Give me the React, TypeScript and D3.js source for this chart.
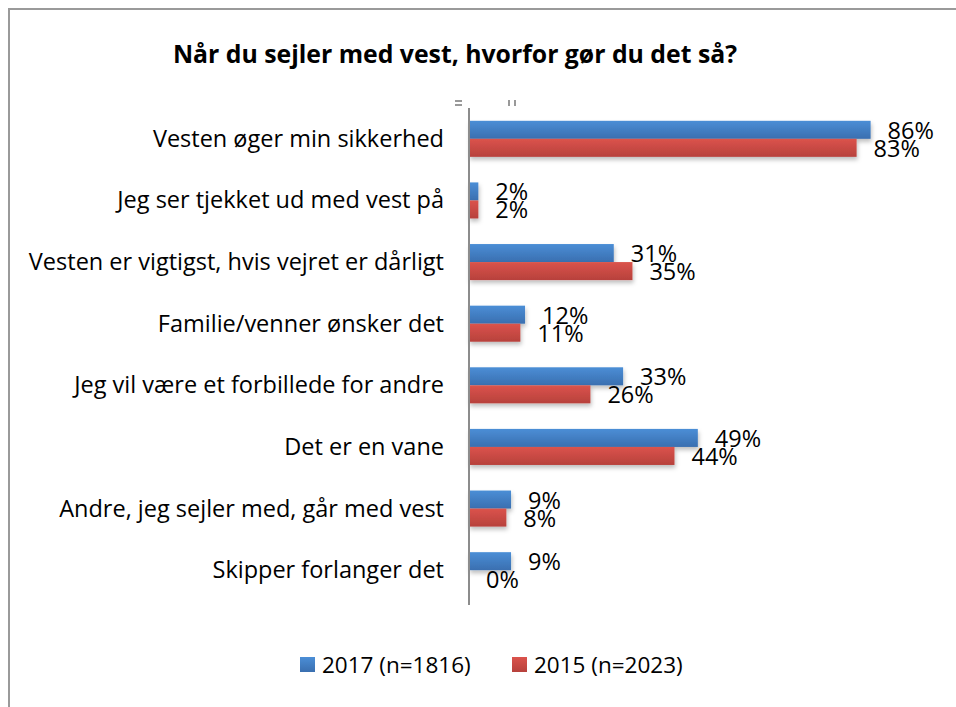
import React from "react";
import * as d3 from "d3";

const categories = [
  "Vesten øger min sikkerhed",
  "Jeg ser tjekket ud med vest på",
  "Vesten er vigtigst, hvis vejret er dårligt",
  "Familie/venner ønsker det",
  "Jeg vil være et forbillede for andre",
  "Det er en vane",
  "Andre, jeg sejler med, går med vest",
  "Skipper forlanger det",
];
const values2017 = [86, 2, 31, 12, 33, 49, 9, 9];
const values2015 = [83, 2, 35, 11, 26, 44, 8, 0];
const seriesNames = ["2017 (n=1816)", "2015 (n=2023)"];
const title = "Når du sejler med vest, hvorfor gør du det så?";

const W = 956;
const H = 707;
const FONT = "'Open Sans', Lato, sans-serif";

export default function App() {
  const x = d3.scaleLinear().domain([0, 100]).range([469, 936]);
  const y = d3
    .scaleBand<string>()
    .domain(categories)
    .range([108, 601])
    .paddingInner(0.415)
    .paddingOuter(0.2075);
  const bh = y.bandwidth() / 2;
  const series = [
    { name: seriesNames[0], values: values2017, grad: "gBlue" },
    { name: seriesNames[1], values: values2015, grad: "gRed" },
  ];

  return (
    <svg
      width={W}
      height={H}
      style={{ position: "fixed", left: 0, top: 0, background: "#fff" }}
    >
      <defs>
        <linearGradient id="gBlue" x1="0" y1="0" x2="0" y2="1">
          <stop offset="0" stopColor="#4b8ed6" />
          <stop offset="1" stopColor="#3a6fb0" />
        </linearGradient>
        <linearGradient id="gRed" x1="0" y1="0" x2="0" y2="1">
          <stop offset="0" stopColor="#db534c" />
          <stop offset="1" stopColor="#b7413c" />
        </linearGradient>
        <filter id="shadow" x="-5%" y="-20%" width="115%" height="160%">
          <feDropShadow dx="1" dy="3" stdDeviation="2" floodColor="#000" floodOpacity="0.25" />
        </filter>
      </defs>
      <rect x={9} y={9} width={1200} height={1200} fill="none" stroke="#9a9a9a" strokeWidth={2} />
      <text
        x={455}
        y={63}
        textAnchor="middle"
        fontFamily={FONT}
        fontWeight="bold"
        fontSize={24.8}
        fill="#000"
      >
        {title}
      </text>
      {/* small artifacts near the top of the axis */}
      <g fill="#999">
        <rect x={455} y={100} width={7} height={2} />
        <rect x={455} y={104} width={7} height={2} />
        <rect x={508} y={100} width={2} height={6} />
        <rect x={514} y={100} width={2} height={6} />
      </g>
      {series.map((s, si) => (
        <g key={s.name} filter="url(#shadow)">
          {s.values.map((v, i) => (
            <rect
              key={i}
              x={x(0)}
              y={(y(categories[i]) as number) + si * bh}
              width={x(v) - x(0)}
              height={bh}
              fill={`url(#${s.grad})`}
            />
          ))}
        </g>
      ))}
      <line x1={x(0)} x2={x(0)} y1={108} y2={605} stroke="#8c8c8c" strokeWidth={2} />
      {categories.map((c) => (
        <text
          key={c}
          x={444}
          y={(y(c) as number) + bh + 8}
          textAnchor="end"
          fontFamily={FONT}
          fontSize={23.5}
          fill="#000"
        >
          {c}
        </text>
      ))}
      {series.map((s, si) =>
        s.values.map((v, i) => (
          <text
            key={`${si}-${i}`}
            x={x(v) + 17}
            y={(y(categories[i]) as number) + si * bh + bh / 2 + 9}
            fontFamily={FONT}
            fontSize={23.5}
            fill="#000"
          >
            {`${v}%`}
          </text>
        ))
      )}
      {series.map((s, si) => {
        const lx = si === 0 ? 300 : 512;
        return (
          <g key={s.name}>
            <rect x={lx} y={657} width={15} height={15} fill={`url(#${s.grad})`} />
            <text x={lx + 22} y={673} fontFamily={FONT} fontSize={22.5} fill="#000">
              {s.name}
            </text>
          </g>
        );
      })}
    </svg>
  );
}
